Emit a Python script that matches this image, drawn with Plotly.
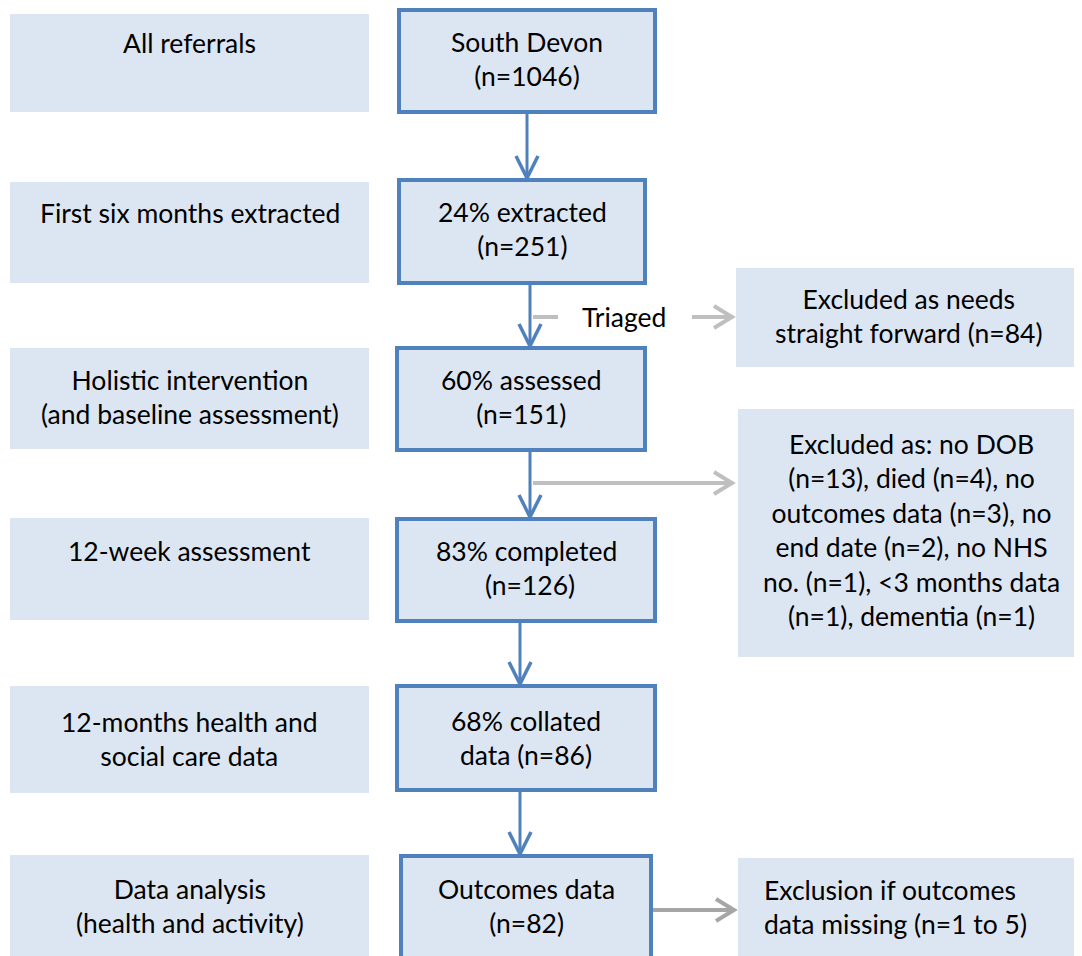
import plotly.graph_objects as go

# ---- content ----
stage_labels = [
    "All referrals",
    "First six months extracted",
    "Holistic intervention<br>(and baseline assessment)",
    "12-week assessment",
    "12-months health and<br>social care data",
    "Data analysis<br>(health and activity)",
]
flow_labels = [
    "South Devon<br>(n=1046)",
    "24% extracted<br>(n=251)",
    "60% assessed<br>(n=151)",
    "83% completed<br> (n=126)",
    "68% collated<br>data (n=86)",
    "Outcomes data<br>(n=82)",
]
exclusion_labels = [
    "Excluded as needs<br>straight forward (n=84)",
    "Excluded as: no DOB<br>(n=13), died (n=4), no<br>outcomes data (n=3), no<br>end date (n=2), no NHS<br>no. (n=1), <3 months data<br>(n=1), dementia (n=1)",
    "Exclusion if outcomes<br>data missing (n=1 to 5)",
]
triage_label = "Triaged"

# ---- layout geometry (pixels, y down) ----
W, H = 1082, 956
OFF = 8  # page body margin
FILL = "#dce6f2"
BLUE = "#4f81bd"
GREY = "#bfbfbf"
GREY2 = "#a6a6a6"
FONT = "Lato"
FS = 26.5

stage_boxes = [(10, 14, 369, 112), (10, 182, 369, 283), (10, 348, 369, 449),
               (10, 518, 369, 620), (10, 686, 369, 793), (10, 855, 369, 960)]
stage_text_y = [43, 213, 397, 551, 739, 906]

flow_boxes = [(399, 10, 655, 112), (399, 180, 645, 283), (397, 348, 645, 450),
              (397, 519, 655, 621), (397, 686, 655, 790), (401, 856, 651, 962)]
flow_text_y = [59, 229, 397, 568, 738, 906]

excl_boxes = [(736, 268, 1082, 367), (738, 409, 1082, 657), (738, 858, 1082, 960)]
excl_text = [(909, 316, "center"), (911, 530, "center"), (762, 907, "left")]

fig = go.Figure()
shapes = []
annotations = []

def rect(b, border=None):
    x0, y0, x1, y1 = b
    shapes.append(dict(type="rect", x0=x0, y0=y0, x1=x1, y1=y1, xref="x", yref="y",
                       fillcolor=FILL,
                       line=dict(color=border if border else FILL, width=4 if border else 0),
                       layer="below"))

def line(x0, y0, x1, y1, color, width):
    shapes.append(dict(type="line", x0=x0, y0=y0, x1=x1, y1=y1, xref="x", yref="y",
                       line=dict(color=color, width=width)))

def chevron_down(x, y, color, width):
    shapes.append(dict(type="path", path=f"M {x-11},{y-22} L {x},{y} L {x+11},{y-22}",
                       xref="x", yref="y", line=dict(color=color, width=width)))

def chevron_right(x, y, color, width):
    shapes.append(dict(type="path", path=f"M {x-18},{y-11} L {x},{y} L {x-18},{y+11}",
                       xref="x", yref="y", line=dict(color=color, width=width)))

def text(x, y, s, align="center", size=FS):
    annotations.append(dict(x=x, y=y, xref="x", yref="y", text=s, showarrow=False,
                            xanchor=align, yanchor="middle", align=align,
                            font=dict(family=FONT, size=size, color="black")))

for b, s, ty in zip(stage_boxes, stage_labels, stage_text_y):
    rect(b)
    text((b[0] + b[2]) / 2, ty, s)

for b, s, ty in zip(flow_boxes, flow_labels, flow_text_y):
    rect(b, BLUE)
    text((b[0] + b[2]) / 2, ty, s)

for b, s, (tx, ty, al) in zip(excl_boxes, exclusion_labels, excl_text):
    rect(b)
    text(tx, ty, s, al)

# blue vertical arrows
v_arrows = [(527, 114, 178), (530, 285, 346), (530, 452, 517), (520, 623, 684), (520, 792, 854)]
for x, y0, y1 in v_arrows:
    line(x, y0, x, y1, BLUE, 3)
    chevron_down(x, y1, BLUE, 3.5)

# grey arrows
line(533, 317, 558, 317, GREY, 4)
text(624, 317, triage_label)
line(692, 317, 732, 317, GREY, 4)
chevron_right(732, 317, GREY, 4)

line(533, 483, 732, 483, GREY, 4)
chevron_right(732, 483, GREY, 4)

line(653, 910, 734, 910, GREY2, 4)
chevron_right(734, 910, GREY2, 4)

fig.update_layout(
    width=W - OFF, height=H - OFF, margin=dict(l=0, r=0, t=0, b=0),
    paper_bgcolor="white", plot_bgcolor="white",
    xaxis=dict(range=[OFF, W], visible=False, fixedrange=True),
    yaxis=dict(range=[H, OFF], visible=False, fixedrange=True),
    shapes=shapes, annotations=annotations, showlegend=False,
)
fig.write_html("out.html")
